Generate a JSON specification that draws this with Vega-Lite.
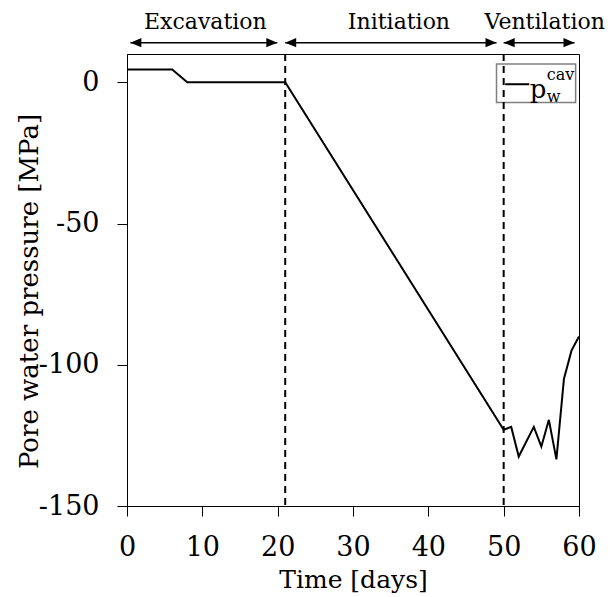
{
  "$schema": "https://vega.github.io/schema/vega-lite/v6.json",
  "autosize": "none",
  "width": 452,
  "height": 452,
  "padding": {"left": 127, "top": 54, "right": 31, "bottom": 91},
  "background": "white",
  "config": {
    "view": {"stroke": "black", "strokeWidth": 1},
    "font": "DejaVu Serif",
    "axis": {"grid": false, "domainColor": "black", "tickColor": "black", "labelColor": "black", "titleColor": "black", "labelFont": "DejaVu Serif", "titleFont": "DejaVu Serif", "titleFontWeight": "normal", "domainWidth": 1, "tickWidth": 1}
  },
  "datasets": {
    "series": [
      {"day": 0, "p": 4.5},
      {"day": 6, "p": 4.5},
      {"day": 8, "p": 0},
      {"day": 21, "p": 0},
      {"day": 50, "p": -123},
      {"day": 51, "p": -122},
      {"day": 52, "p": -132.5},
      {"day": 54, "p": -122},
      {"day": 55, "p": -129},
      {"day": 56, "p": -119.5},
      {"day": 57, "p": -133.5},
      {"day": 58, "p": -105},
      {"day": 59, "p": -95},
      {"day": 60, "p": -90}
    ],
    "phases": [
      {"phase": "Excavation", "start": 0.45, "end": 19.95, "label_x": 10.4},
      {"phase": "Initiation", "start": 21.0, "end": 49.05, "label_x": 36.1},
      {"phase": "Ventilation", "start": 50.0, "end": 59.4, "label_x": 55.45}
    ],
    "bounds": [{"day": 21}, {"day": 50}],
    "legendbox": [{"x1": 49.05, "x2": 59.55, "y1": 6.5, "y2": -7.2, "lx1": 50.2, "lx2": 53.4, "ly": -0.7}]
  },
  "layer": [
    {
      "data": {"name": "legendbox"},
      "mark": {"type": "rect", "fill": "white", "stroke": "#808080", "strokeWidth": 1.5},
      "encoding": {
        "x": {"field": "x1", "type": "quantitative", "scale": {"domain": [0, 60], "nice": false}, "axis": {"values": [0, 10, 20, 30, 40, 50, 60], "tickSize": 10, "labelFontSize": 27, "labelBaseline": "alphabetic", "labelPadding": 39, "labelFlush": false, "title": "Time [days]", "titleFontSize": 25, "titleBaseline": "alphabetic", "titleY": 81, "titleX": 226}},
        "x2": {"field": "x2"},
        "y": {"field": "y1", "type": "quantitative", "scale": {"domain": [-150, 10], "nice": false}, "axis": {"values": [-150, -100, -50, 0], "labelExpr": "datum.value < 0 ? '-' + abs(datum.value) : '' + datum.value", "tickSize": 10, "labelFontSize": 27, "labelPadding": 18, "labelFlush": false, "title": "Pore water pressure [MPa]", "titleFontSize": 26, "titleBaseline": "alphabetic", "titleAngle": 270, "titleAlign": "center", "titleX": -90, "titleY": 237}},
        "y2": {"field": "y2"}
      }
    },
    {
      "data": {"name": "bounds"},
      "mark": {"type": "rule", "color": "black", "strokeWidth": 2, "strokeDash": [7, 5]},
      "encoding": {
        "x": {"field": "day", "type": "quantitative"},
        "y": {"datum": 10},
        "y2": {"datum": -150}
      }
    },
    {
      "data": {"name": "series"},
      "mark": {"type": "line", "color": "black", "strokeWidth": 2},
      "encoding": {
        "x": {"field": "day", "type": "quantitative"},
        "y": {"field": "p", "type": "quantitative"}
      }
    },
    {
      "data": {"name": "legendbox"},
      "mark": {"type": "rule", "color": "black", "strokeWidth": 2},
      "encoding": {
        "x": {"field": "lx1", "type": "quantitative"},
        "x2": {"field": "lx2"},
        "y": {"field": "ly", "type": "quantitative"}
      }
    },
    {
      "data": {"values": [
        {"t": "p", "x": 53.46, "y": -5.73, "s": "main"},
        {"t": "w", "x": 55.72, "y": -6.87, "s": "sub"},
        {"t": "cav", "x": 55.72, "y": 0.81, "s": "sub"}
      ]},
      "mark": {"type": "text", "align": "left", "baseline": "alphabetic", "color": "black", "font": "DejaVu Serif", "clip": false},
      "encoding": {
        "x": {"field": "x", "type": "quantitative"},
        "y": {"field": "y", "type": "quantitative"},
        "text": {"field": "t"},
        "size": {"field": "s", "type": "nominal", "scale": {"domain": ["main", "sub"], "range": [26, 16]}, "legend": null}
      }
    },
    {
      "data": {"name": "phases"},
      "mark": {"type": "rule", "color": "black", "strokeWidth": 1.5, "clip": false},
      "encoding": {
        "x": {"field": "start", "type": "quantitative"},
        "x2": {"field": "end"},
        "y": {"datum": 14}
      }
    },
    {
      "data": {"name": "phases"},
      "mark": {"type": "point", "shape": "M0,0L1,-0.42L1,0.42Z", "size": 484, "filled": true, "color": "black", "opacity": 1, "clip": false},
      "encoding": {
        "x": {"field": "start", "type": "quantitative"},
        "y": {"datum": 14}
      }
    },
    {
      "data": {"name": "phases"},
      "mark": {"type": "point", "shape": "M0,0L-1,-0.42L-1,0.42Z", "size": 484, "filled": true, "color": "black", "opacity": 1, "clip": false},
      "encoding": {
        "x": {"field": "end", "type": "quantitative"},
        "y": {"datum": 14}
      }
    },
    {
      "data": {"name": "phases"},
      "mark": {"type": "text", "fontSize": 22, "font": "DejaVu Serif", "align": "center", "baseline": "alphabetic", "color": "black", "clip": false},
      "encoding": {
        "x": {"field": "label_x", "type": "quantitative"},
        "y": {"datum": 18.7},
        "text": {"field": "phase"}
      }
    }
  ]
}
